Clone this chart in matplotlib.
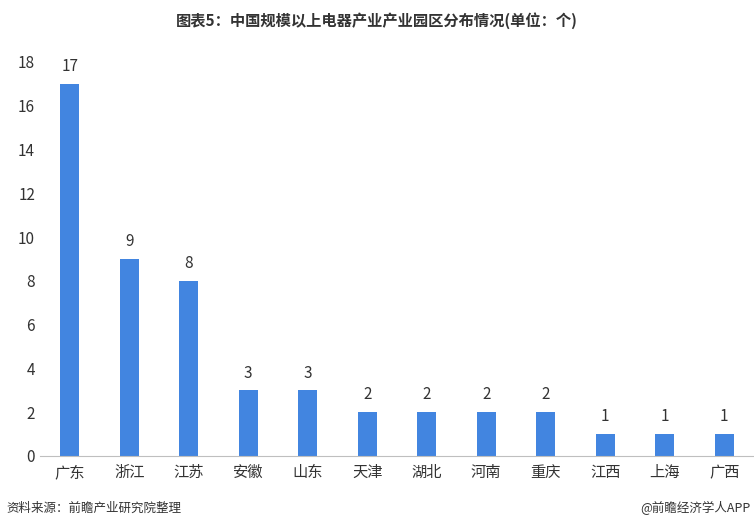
import matplotlib
matplotlib.use("Agg")
import matplotlib.pyplot as plt

plt.rcParams['font.family'] = ['Noto Sans CJK SC', 'DejaVu Sans']

provinces = ["广东", "浙江", "江苏", "安徽", "山东", "天津", "湖北", "河南", "重庆", "江西", "上海", "广西"]
counts = [17, 9, 8, 3, 3, 2, 2, 2, 2, 1, 1, 1]
yticks = [0, 2, 4, 6, 8, 10, 12, 14, 16, 18]

fig = plt.figure(figsize=(7.54, 5.29), dpi=100)
ax = fig.add_axes([0.053, 0.138, 0.947, 0.745])
x = list(range(len(provinces)))
ax.bar(x, counts, width=0.32, color="#4285E0")
for xi, v in zip(x, counts):
    ax.text(xi, v + 0.4, str(v), ha="center", va="bottom", fontsize=11, color="#333333")
ax.set_xlim(-0.5, len(provinces) - 0.5)
ax.set_ylim(0, 18)
ax.set_yticks(yticks)
ax.set_xticks(x)
ax.set_xticklabels(provinces, fontsize=11, color="#333333")
ax.tick_params(axis="y", labelsize=11, colors="#333333", length=0)
ax.tick_params(axis="x", length=0, pad=6)
for s in ["top", "right", "left"]:
    ax.spines[s].set_visible(False)
ax.spines["bottom"].set_color("#bfbfbf")

fig.text(0.5, 0.962, "图表5：中国规模以上电器产业产业园区分布情况(单位：个)", ha="center", va="center",
         fontsize=11, fontweight="bold", color="#333333")
fig.text(0.008, 0.04, "资料来源：前瞻产业研究院整理", ha="left", va="center", fontsize=9, color="#333333")
fig.text(0.995, 0.04, "@前瞻经济学人APP", ha="right", va="center", fontsize=9, color="#333333")
fig.savefig("out.png", dpi=100)
